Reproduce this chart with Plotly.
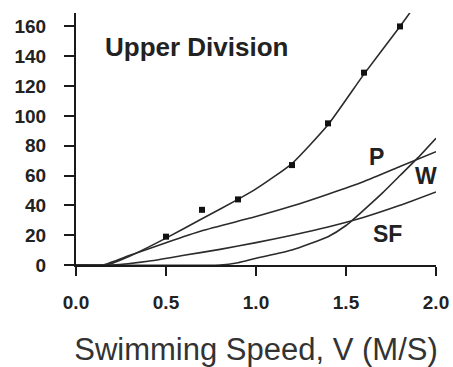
import plotly.graph_objects as go

# Measured total (Upper Division) data points
meas_v = [0.5, 0.7, 0.9, 1.2, 1.4, 1.6, 1.8]
meas_y = [19, 37, 44, 67, 95, 129, 160]

# Fitted total curve
total_v = [0.0, 0.17, 0.3, 0.5, 0.7, 0.9, 1.0, 1.2, 1.4, 1.6, 1.8, 1.86]
total_y = [0, 0, 6, 18, 31, 44, 51, 68, 94, 128, 160, 170]

# P curve
p_v = [0.0, 0.15, 0.3, 0.5, 0.7, 1.0, 1.2, 1.4, 1.6, 1.8, 2.0]
p_y = [0, 0, 6.5, 15, 23, 32.5, 39.5, 47.5, 56, 66, 76]

# SF curve
sf_v = [0.0, 0.2, 0.4, 0.6, 0.8, 1.0, 1.2, 1.4, 1.6, 1.8, 2.0]
sf_y = [0, 0, 2.5, 6.5, 10.5, 15, 20, 25.5, 32, 40, 49]

# W curve
w_v = [0.0, 0.8, 0.9, 1.0, 1.2, 1.4, 1.5, 1.6, 1.7, 1.8, 1.9, 2.0]
w_y = [0, 0, 1.5, 4.5, 10, 19, 26.5, 37, 48, 60, 72, 85]

x_ticks = [0.0, 0.5, 1.0, 1.5, 2.0]
x_tick_text = ["0.0", "0.5", "1.0", "1.5", "2.0"]
y_ticks = [0, 20, 40, 60, 80, 100, 120, 140, 160]

FONT = "Arial, Liberation Sans, sans-serif"
line_col = "#2b2b2b"
fig = go.Figure()
for xv, yv in [(total_v, total_y), (p_v, p_y), (sf_v, sf_y), (w_v, w_y)]:
    fig.add_trace(go.Scatter(x=xv, y=yv, mode="lines",
                             line=dict(color=line_col, width=1.6, shape="spline", smoothing=0.5),
                             showlegend=False, hoverinfo="skip"))
fig.add_trace(go.Scatter(x=meas_v, y=meas_y, mode="markers",
                         marker=dict(symbol="square", size=6, color="#111"), showlegend=False))

bold = dict(family=FONT, size=19, color="#222")
labels = [("P", 1.667, 72.5), ("W", 1.944, 60), ("SF", 1.728, 21)]
for t, xv, yv in labels:
    fig.add_annotation(x=xv, y=yv, text="<b>%s</b>" % t, showarrow=False,
                       font=dict(family=FONT, size=23, color="#222"))
fig.add_annotation(x=0.667, y=146, text="<b>Upper Division</b>", showarrow=False,
                   font=dict(family=FONT, size=26, color="#222"))

fig.update_layout(
    width=453, height=367, margin=dict(l=76, r=17, t=13, b=102),
    plot_bgcolor="white", paper_bgcolor="white",
    xaxis=dict(range=[0, 2.0], tickvals=x_ticks, ticktext=["<b>%s</b>" % s for s in x_tick_text],
               showline=True, linecolor="#1a1a1a", linewidth=2, ticks="outside", ticklen=9, tickwidth=2,
               tickcolor="#1a1a1a", showgrid=False, zeroline=False, tickfont=bold, automargin=False,
               ticklabelstandoff=10,
               title=dict(text="Swimming Speed, V (M/S)", standoff=27,
                          font=dict(family=FONT, size=31, color="#333"))),
    yaxis=dict(range=[0, 169], tickvals=y_ticks, ticktext=["<b>%d</b>" % v for v in y_ticks],
               showline=True, linecolor="#1a1a1a", linewidth=2, ticks="outside", ticklen=10, tickwidth=2,
               tickcolor="#1a1a1a", showgrid=False, zeroline=False, tickfont=bold, automargin=False,
               ticklabelstandoff=14),
)
fig.write_html("out.html")
